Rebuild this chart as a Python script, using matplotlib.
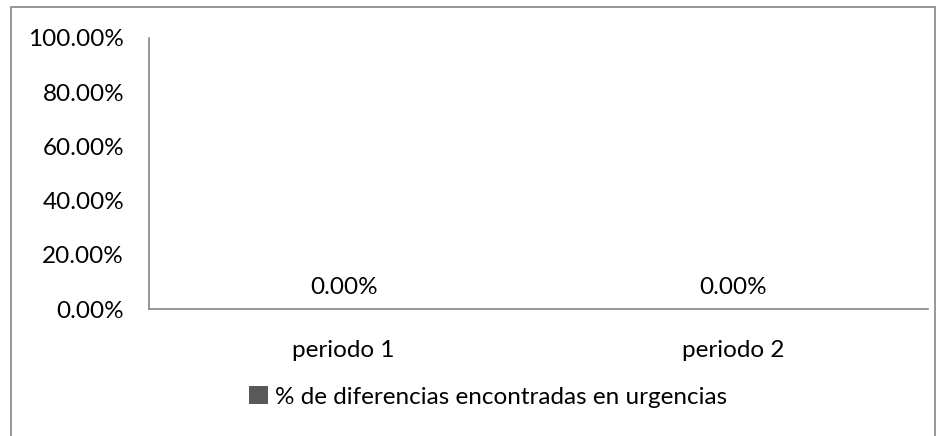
import matplotlib.pyplot as plt
from matplotlib.patches import Rectangle

categories = ["periodo 1", "periodo 2"]
values = [0.0, 0.0]
yticks = [0.0, 0.2, 0.4, 0.6, 0.8, 1.0]
series_name = "% de diferencias encontradas en urgencias"

plt.rcParams['font.family'] = ['Lato', 'DejaVu Sans']
FS = 17.5

fig = plt.figure(figsize=(9.48, 4.36), dpi=100)
# outer chart-area border
fig.patches.append(Rectangle((11 / 948, -0.01), 924 / 948, 1 - 7 / 436 + 0.01,
                             transform=fig.transFigure, fill=False,
                             edgecolor="#868686", linewidth=1.2))

ax = fig.add_axes([149 / 948, 1 - 309 / 436, 779 / 948, 271 / 436])
x = range(len(categories))
bars = ax.bar(x, values, width=0.5, color="#595959", label=series_name)
ax.set_xlim(-0.5, len(categories) - 0.5)
ax.set_ylim(0, 1)
ax.set_yticks(yticks)
ax.set_yticklabels([f"{v * 100:.2f}%" for v in yticks], fontsize=FS)
ax.set_xticks(list(x))
ax.set_xticklabels(categories, fontsize=FS)
ax.tick_params(length=0)
ax.tick_params(axis="y", pad=18)
ax.tick_params(axis="x", pad=22)
for s in ["top", "right"]:
    ax.spines[s].set_visible(False)
for s in ["left", "bottom"]:
    ax.spines[s].set_color("#868686")
    ax.spines[s].set_linewidth(1.2)

for xi, v in zip(x, values):
    ax.text(xi, v + 0.04, f"{v * 100:.2f}%", ha="center", va="bottom", fontsize=FS)

ax.legend(loc="center", bbox_to_anchor=(0.515, 1 - 397 / 436), bbox_transform=fig.transFigure,
          frameon=False, fontsize=FS, handlelength=0.75, handleheight=0.75, handletextpad=0.3)

fig.savefig("out.png", dpi=100)
